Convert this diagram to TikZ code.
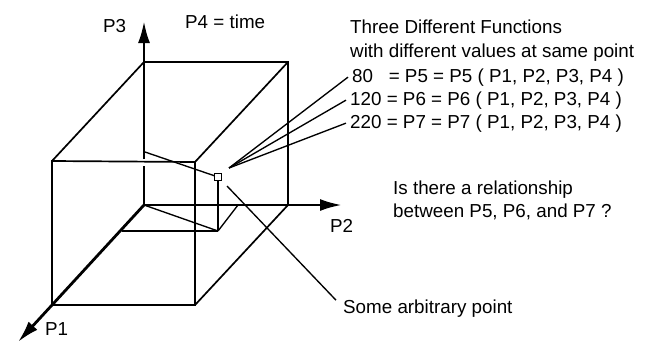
\documentclass[tikz,border=0pt]{standalone}
\usepackage{fontspec}
\setmainfont{Liberation Sans}
\usetikzlibrary{arrows.meta, positioning, calc}

\begin{document}
\begin{tikzpicture}[x=1pt, y=-1pt,
    ax/.style={line width=2.8pt},
    axh/.style={line width=2.8pt, -{Latex[length=22pt, width=12pt]}},
    ed/.style={line width=1.7pt},
    cn/.style={line width=1.35pt},
    pt/.style={draw, line width=0.9pt, minimum size=7pt, inner sep=0pt},
    lb/.style={font=\fontsize{18.8}{22}\selectfont, inner sep=0pt, anchor=base west}]
    \useasboundingbox (0,0) rectangle (650,343);
    % axes
    \coordinate (o) at (144,205);
    \coordinate (t1) at (18,342);
    \coordinate (t2) at (342,205);
    \coordinate (t3) at (144,21);
    \coordinate (g3a) at (144,166);
    \coordinate (g3b) at (144,159);
    \draw[ax] (o) -- (g3a);
    \draw[axh] (g3b) -- (t3);
    \draw[axh] (o) -- (t2);
    \draw[axh] (o) -- (t1);
    % cube
    \coordinate (b3) at (144,62);
    \coordinate (b23) at (288,62);
    \coordinate (b2) at (288,205);
    \coordinate (f) at (52,305);
    \coordinate (f3) at (52,161);
    \coordinate (f23) at (195,162);
    \coordinate (f2) at (195,305);
    \draw[ed] (b3) -- (b23) -- (b2);
    \draw[ed] (f3) -- (f23) -- (f2) -- (f) -- cycle;
    \foreach \i/\j in {f3/b3,f23/b23,f2/b2} {
        \draw[ed] (\i)--(\j);
    }
    % the point
    \node[pt] (p) at (218,177) {};
    \coordinate (ft) at (218,231);
    \coordinate (q1) at (122,231);
    \coordinate (q2) at (238,205);
    \coordinate (q3) at (145,152);
    \foreach \i/\j in {q3/p,o/ft,q1/ft,ft/q2} {
        \draw[cn] (\i)--(\j);
    }
    \draw[line width=1.1pt] (p) -- (ft);
    % labels
    \node[lb] (l3) at (103,32) {P3};
    \node[lb] (l4) at (185,28) {P4 = time};
    \node[lb] (l2) at (330,232) {P2};
    \node[lb] (l1) at (45,335) {P1};
    \node[lb] (h1) at (350,33) {Three Different Functions};
    \node[lb] (h2) at (350,57) {with different values at same point};
    \node[lb] (r5) at (352,82) {80\hphantom{0} = P5 = P5 ( P1, P2, P3, P4 )};
    \node[lb] (r6) at (350,105) {120 = P6 = P6 ( P1, P2, P3, P4 )};
    \node[lb] (r7) at (350,128) {220 = P7 = P7 ( P1, P2, P3, P4 )};
    \node[lb] (q) at (393,194) {Is there a relationship};
    \node[lb] (qb) at (393,217) {between P5, P6, and P7 ?};
    \node[lb] (sp) at (343,313) {Some arbitrary point};
    % leaders
    \coordinate (hit) at (229,168);
    \foreach \r in {r5,r6,r7} {
        \draw[cn] ([xshift=-4pt]\r.west) -- (hit);
    }
    \draw[cn] (227,186) -- ($(sp.north west)+(-7,1)$);
\end{tikzpicture}
\end{document}
